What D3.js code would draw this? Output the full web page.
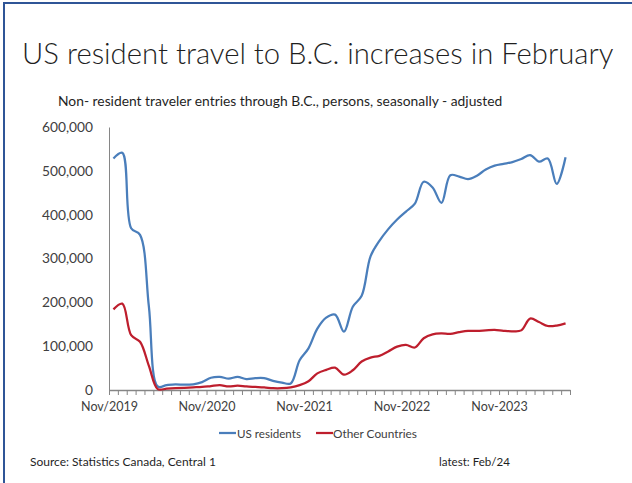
<!DOCTYPE html>
<html><head><meta charset="utf-8">
<script src="https://cdn.jsdelivr.net/npm/d3@7"></script>
<style>html,body{margin:0;padding:0;background:#fff;}svg{display:block;}</style>
</head><body>
<svg id="chart" width="632" height="483"></svg>
<script>
// ---- data ----
const months = (() => { const a = []; const mn = ["Jan","Feb","Mar","Apr","May","Jun","Jul","Aug","Sep","Oct","Nov","Dec"]; let m = 10, y = 2019; for (let i = 0; i < 52; i++) { a.push(mn[m] + "-" + y); m++; if (m > 11) { m = 0; y++; } } return a; })();
const usResidents = [528000,541000,369000,354000,190000,8000,11000,13000,12000,13000,18000,28000,30000,26000,30000,25000,
  27000,27000,21000,17000,15000,68000,95000,140000,165000,172000,133000,190000,215000,305000,340000,367000,
  389000,407000,425000,475000,462000,427000,490000,487000,481000,489000,503000,512000,516000,520000,527000,536000,
  521000,528000,470000,531000];
const otherCountries = [184000,197000,125000,110000,55000,2000,3000,4000,5000,6000,7000,9000,11000,8000,10000,8000,
  7000,6000,4000,4000,6000,11000,20000,38000,46000,51000,35000,45000,65000,74000,78000,88000,
  99000,103000,97000,118000,127000,129000,128000,132000,135000,135000,136000,137000,135000,134000,136000,163000,
  155000,146000,147000,152000];
const seriesNames = ["US residents", "Other Countries"];
const seriesColors = ["#4a7ebb", "#be1e2d"];
const yTicks = [0,100000,200000,300000,400000,500000,600000];
const xTickLabels = ["Nov/2019","Nov/2020","Nov-2021","Nov-2022","Nov-2023"];
const xLabelEvery = 11;
const titleText = "US resident travel to B.C. increases in February";
const subtitleText = "Non- resident traveler entries through B.C., persons, seasonally - adjusted";
const sourceText = "Source: Statistics Canada, Central 1";
const latestText = "latest: Feb/24";

// ---- layout ----
const svg = d3.select("#chart");
const FONT = "Lato, 'Open Sans', 'Noto Sans', sans-serif";
const plot = {left: 109, right: 570, top: 127, bottom: 390};

function fit(sel, w) {
  const n = sel.node(); const cur = n.getComputedTextLength();
  const fs = parseFloat(sel.attr("font-size"));
  if (cur > 0) sel.attr("font-size", fs * w / cur);
  return sel;
}

// border
svg.append("line").attr("x1", 4).attr("x2", 632).attr("y1", 3).attr("y2", 3).attr("stroke", "#2f5597").attr("stroke-width", 2);
svg.append("line").attr("x1", 4).attr("x2", 4).attr("y1", 2).attr("y2", 483).attr("stroke", "#2f5597").attr("stroke-width", 2);

// title
const title = svg.append("text").attr("x", 22).attr("y", 64).attr("font-family", FONT).attr("font-weight", 300)
  .attr("font-size", 30).attr("fill", "#1f1f1f").text(titleText);
fit(title, 592);
const sub = svg.append("text").attr("x", 58).attr("y", 106).attr("font-family", FONT)
  .attr("font-size", 13).attr("fill", "#1f1f1f").text(subtitleText);
fit(sub, 445);

// scales
const x = d3.scaleBand().domain(months).range([plot.left, plot.right]).paddingInner(0).paddingOuter(0);
const y = d3.scaleLinear().domain([0, 600000]).range([plot.bottom, plot.top]);
const xc = d => x(d) + x.bandwidth() / 2;

// y axis
const yAxis = svg.append("g").attr("transform", `translate(${plot.left},0)`)
  .call(d3.axisLeft(y).tickValues(yTicks).tickSize(0).tickPadding(16).tickFormat(d3.format(",")));
yAxis.select(".domain").attr("stroke", "#868686").attr("stroke-width", 1);
yAxis.selectAll("text").attr("font-family", FONT).attr("font-size", 14).attr("fill", "#404040");
{
  const t = yAxis.selectAll("text").filter(d => d === 600000);
  const w = t.node().getComputedTextLength();
  yAxis.selectAll("text").attr("font-size", 14 * 51 / w);
}

// x axis: ticks at category boundaries, labels every 11 categories
const bounds = d3.range(months.length + 1);
const xb = d3.scaleLinear().domain([0, months.length]).range([plot.left, plot.right]);
const xAxisG = svg.append("g").attr("transform", `translate(0,${plot.bottom})`)
  .call(d3.axisBottom(xb).tickValues(bounds).tickSizeInner(5).tickSizeOuter(0).tickPadding(7)
    .tickFormat(i => (i % xLabelEvery === 0 && i / xLabelEvery < xTickLabels.length) ? xTickLabels[i / xLabelEvery] : ""));
xAxisG.select(".domain").attr("stroke", "#868686").attr("stroke-width", 1.3);
xAxisG.selectAll(".tick line").attr("stroke", "#868686").attr("stroke-width", 1);
xAxisG.selectAll("text").attr("font-family", FONT).attr("font-size", 14).attr("fill", "#404040");
{
  const t = xAxisG.selectAll("text").filter(d => d === 0);
  const w = t.node().getComputedTextLength();
  xAxisG.selectAll("text").attr("font-size", 14 * 57 / w);
}

// lines
const line = d3.line().x((d, i) => xc(months[i])).y(d => y(d)).curve(d3.curveCatmullRom.alpha(0.5));
[usResidents, otherCountries].forEach((s, k) => {
  svg.append("path").datum(s).attr("d", line).attr("fill", "none")
    .attr("stroke", seriesColors[k]).attr("stroke-width", 2.25).attr("stroke-linejoin", "round");
});

// legend
const legY = 433;
const legItems = [{x: 219, tx: 237, tw: 64}, {x: 316, tx: 333, tw: 84}];
legItems.forEach((it, k) => {
  svg.append("line").attr("x1", it.x).attr("x2", it.x + 17).attr("y1", legY).attr("y2", legY)
    .attr("stroke", seriesColors[k]).attr("stroke-width", 2.25);
  const t = svg.append("text").attr("x", it.tx).attr("y", legY + 5).attr("font-family", FONT)
    .attr("font-size", 13).attr("fill", "#404040").text(seriesNames[k]);
  fit(t, it.tw);
});

// footer
const src = svg.append("text").attr("x", 30).attr("y", 466).attr("font-family", FONT).attr("font-size", 12)
  .attr("fill", "#1f1f1f").text(sourceText);
fit(src, 186);
const lat = svg.append("text").attr("x", 439).attr("y", 466).attr("font-family", FONT).attr("font-size", 12)
  .attr("fill", "#1f1f1f").text(latestText);
fit(lat, 71);
</script>
</body></html>
